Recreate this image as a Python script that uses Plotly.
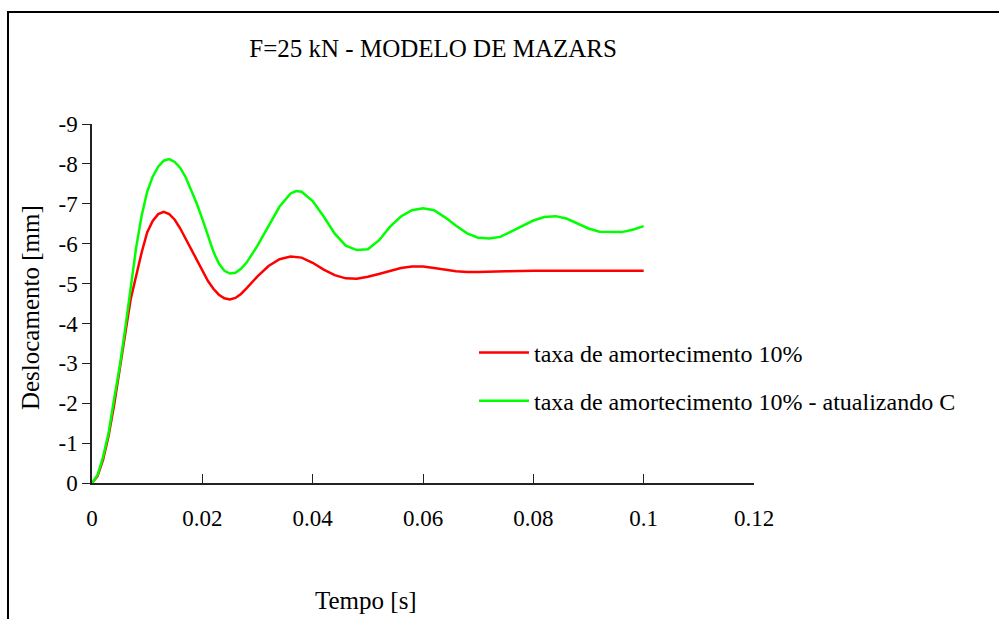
import plotly.graph_objects as go

# Time (s) and displacement (mm) for the two damping cases
t_red = [0.0, 0.001, 0.002, 0.003, 0.004, 0.005, 0.006, 0.007, 0.008, 0.009,
         0.010, 0.011, 0.012, 0.013, 0.014, 0.015, 0.016, 0.017, 0.018, 0.019,
         0.020, 0.021, 0.022, 0.023, 0.024, 0.025, 0.026, 0.027, 0.028, 0.030,
         0.032, 0.034, 0.036, 0.038, 0.040, 0.042, 0.044, 0.046, 0.048, 0.050,
         0.052, 0.054, 0.056, 0.058, 0.060, 0.062, 0.064, 0.066, 0.068, 0.070,
         0.075, 0.080, 0.090, 0.100]
d_red = [0.0, -0.17, -0.58, -1.18, -1.95, -2.78, -3.72, -4.6, -5.2, -5.78,
         -6.28, -6.57, -6.74, -6.8, -6.74, -6.6, -6.38, -6.12, -5.88, -5.6,
         -5.32, -5.07, -4.87, -4.72, -4.63, -4.6, -4.64, -4.74, -4.88, -5.18,
         -5.44, -5.61, -5.68, -5.65, -5.52, -5.35, -5.21, -5.13, -5.12, -5.17,
         -5.24, -5.32, -5.39, -5.43, -5.43, -5.39, -5.35, -5.31, -5.29, -5.29,
         -5.31, -5.32, -5.32, -5.32]

t_green = [0.0, 0.001, 0.002, 0.003, 0.004, 0.005, 0.006, 0.007, 0.008, 0.009,
           0.010, 0.011, 0.012, 0.013, 0.014, 0.015, 0.016, 0.017, 0.018, 0.019,
           0.020, 0.021, 0.022, 0.023, 0.024, 0.025, 0.026, 0.027, 0.028, 0.030,
           0.032, 0.034, 0.036, 0.037, 0.038, 0.040, 0.042, 0.044, 0.046, 0.048,
           0.050, 0.052, 0.054, 0.056, 0.058, 0.060, 0.062, 0.064, 0.066, 0.068,
           0.070, 0.072, 0.074, 0.076, 0.078, 0.080, 0.082, 0.084, 0.086, 0.088,
           0.090, 0.092, 0.094, 0.096, 0.098, 0.100]
d_green = [0.0, -0.2, -0.65, -1.25, -2.1, -2.9, -3.85, -4.95, -5.9, -6.7,
           -7.3, -7.68, -7.93, -8.08, -8.12, -8.05, -7.9, -7.66, -7.35, -7.0,
           -6.62, -6.2, -5.8, -5.5, -5.32, -5.25, -5.27, -5.37, -5.52, -5.95,
           -6.45, -6.93, -7.26, -7.32, -7.3, -7.07, -6.68, -6.25, -5.95, -5.84,
           -5.86, -6.08, -6.42, -6.68, -6.84, -6.89, -6.84, -6.66, -6.45, -6.26,
           -6.15, -6.13, -6.17, -6.3, -6.45, -6.58, -6.67, -6.69, -6.63, -6.51,
           -6.38, -6.3, -6.29, -6.29, -6.35, -6.44]

names = ["taxa de amortecimento 10%",
         "taxa de amortecimento 10% - atualizando C"]
x_ticks = [0, 0.02, 0.04, 0.06, 0.08, 0.1, 0.12]
x_labels = ["0", "0.02", "0.04", "0.06", "0.08", "0.1", "0.12"]
y_ticks = [0, -1, -2, -3, -4, -5, -6, -7, -8, -9]
y_labels = ["0", "-1", "-2", "-3", "-4", "-5", "-6", "-7", "-8", "-9"]

FONT = "Times New Roman, Liberation Serif, serif"

fig = go.Figure()
fig.add_trace(go.Scatter(x=t_red, y=d_red, mode="lines", name=names[0],
                         legendgroup="a",
                         line=dict(color="#FF0000", width=2.5)))
fig.add_trace(go.Scatter(x=t_green, y=d_green, mode="lines", name=names[1],
                         legendgroup="b",
                         line=dict(color="#00FF00", width=2.5)))

fig.update_layout(
    template="none",
    width=999, height=619,
    margin=dict(l=92, r=245, t=124, b=136, autoexpand=False),
    paper_bgcolor="white", plot_bgcolor="white",
    font=dict(family=FONT, color="black", size=23),
    title=dict(text="F=25 kN - MODELO DE MAZARS", x=0.4335, y=0.922,
               xanchor="center", yanchor="middle",
               font=dict(family=FONT, size=25, color="black")),
    showlegend=True,
    legend=dict(x=0.577, y=0.2955, xanchor="left", yanchor="middle",
                bgcolor="rgba(0,0,0,0)", borderwidth=0,
                font=dict(family=FONT, size=24, color="black"),
                tracegroupgap=14, itemwidth=50, traceorder="grouped"),
    xaxis=dict(range=[0, 0.12], tickvals=x_ticks, ticktext=x_labels,
               showgrid=False, zeroline=False, showline=True,
               linecolor="#222", linewidth=1.5,
               ticks="inside", ticklen=9, tickcolor="#222", tickwidth=1.2,
               ticklabelstandoff=14,
               tickfont=dict(family=FONT, size=23, color="black")),
    yaxis=dict(range=[0, -9], tickvals=y_ticks, ticktext=y_labels,
               showgrid=False, zeroline=False, showline=True,
               linecolor="#222", linewidth=1.5,
               ticks="outside", ticklen=8, tickcolor="#222", tickwidth=1.2,
               tickfont=dict(family=FONT, size=23, color="black")),
    annotations=[
        dict(text="Deslocamento [mm]", xref="paper", yref="paper",
             x=-0.0937, y=0.49, textangle=-90, showarrow=False,
             xanchor="center", yanchor="middle",
             font=dict(family=FONT, size=25, color="black")),
        dict(text="Tempo [s]", xref="paper", yref="paper",
             x=0.414, y=-0.326, showarrow=False,
             xanchor="center", yanchor="middle",
             font=dict(family=FONT, size=25, color="black")),
    ],
    shapes=[
        # chart-area frame
        dict(type="rect", xref="paper", yref="paper",
             x0=-0.1269, x1=1.6, y0=-0.5, y1=1.312,
             line=dict(color="black", width=2), fillcolor="rgba(0,0,0,0)",
             layer="below"),
    ],
)

fig.write_html("out.html")
